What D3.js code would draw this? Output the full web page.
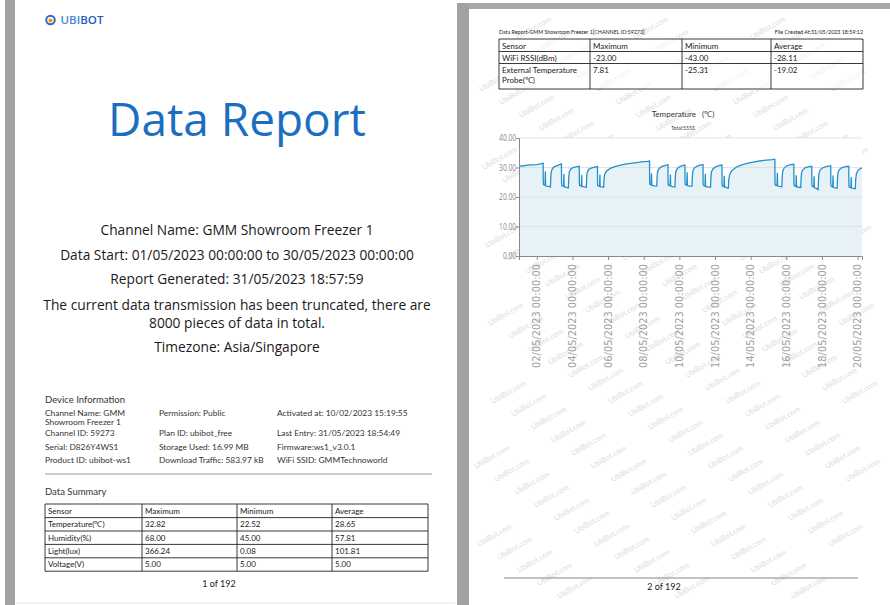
<!DOCTYPE html>
<html>
<head>
<meta charset="utf-8">
<script src="https://cdnjs.cloudflare.com/ajax/libs/d3/7.8.5/d3.min.js"></script>
<style>
  body { margin: 0; background: #fff; }
  svg { display: block; }
</style>
</head>
<body>
<div id="report"></div>
<script>
// ---------- page 1 ----------
var coverLines = [
  "Channel Name: GMM Showroom Freezer 1",
  "Data Start: 01/05/2023 00:00:00 to 30/05/2023 00:00:00",
  "Report Generated: 31/05/2023 18:57:59",
  "The current data transmission has been truncated, there are",
  "8000 pieces of data in total.",
  "Timezone: Asia/Singapore"
];
var deviceCol1 = [["Channel Name: GMM", "Showroom Freezer 1"], ["Channel ID: 59273"], ["Serial: D826Y4WS1"], ["Product ID: ubibot-ws1"]];
var deviceCol2 = ["Permission: Public", "Plan ID: ubibot_free", "Storage Used: 16.99 MB", "Download Traffic: 583.97 kB"];
var deviceCol3 = ["Activated at: 10/02/2023 15:19:55", "Last Entry: 31/05/2023 18:54:49", "Firmware:ws1_v3.0.1", "WiFi SSID: GMMTechnoworld"];

var tableHeader = ["Sensor", "Maximum", "Minimum", "Average"];
var summaryRows = [
  ["Temperature(\u2103)", "32.82", "22.52", "28.65"],
  ["Humidity(%)", "68.00", "45.00", "57.81"],
  ["Light(lux)", "366.24", "0.08", "101.81"],
  ["Voltage(V)", "5.00", "5.00", "5.00"]
];

// ---------- page 2 ----------
var page2Rows = [
  [["WiFi RSSI(dBm)"], "-23.00", "-43.00", "-28.11"],
  [["External Temperature", "Probe(\u2103)"], "7.81", "-25.31", "-19.02"]
];

// temperature readings (date, °C)
var tempSeries = [
  ["05-01 00:00", 30.5], ["05-01 06:00", 30.6], ["05-01 12:00", 30.8], ["05-01 18:00", 30.9], ["05-02 00:00", 31.0], ["05-02 06:00", 31.3], ["05-02 08:30", 31.4],
  ["05-02 08:40", 25.2], ["05-02 09:00", 24.2], ["05-02 11:00", 24.0], ["05-02 11:30", 28.6], ["05-02 11:50", 23.8], ["05-02 15:00", 23.6], ["05-02 18:20", 23.4], ["05-02 18:50", 26.8], ["05-02 19:30", 28.6], ["05-02 21:00", 29.6], ["05-03 00:00", 30.3], ["05-03 05:00", 30.8], ["05-03 09:10", 31.2],
  ["05-03 09:20", 24.8], ["05-03 09:40", 23.8], ["05-03 12:00", 23.6], ["05-03 12:30", 27.8], ["05-03 12:50", 23.5], ["05-03 16:00", 23.3], ["05-03 18:30", 23.1], ["05-03 19:00", 26.5], ["05-03 19:40", 28.4], ["05-03 21:30", 29.4], ["05-04 01:00", 30.0], ["05-04 06:00", 30.3], ["05-04 09:10", 30.4],
  ["05-04 09:20", 24.6], ["05-04 09:40", 23.9], ["05-04 12:00", 23.7], ["05-04 12:30", 27.5], ["05-04 12:50", 23.6], ["05-04 16:00", 23.4], ["05-04 18:40", 23.3], ["05-04 19:10", 26.6], ["05-04 19:50", 28.3], ["05-04 22:00", 29.4], ["05-05 02:00", 29.9], ["05-05 07:00", 30.2], ["05-05 09:40", 30.3],
  ["05-05 09:50", 24.5], ["05-05 10:10", 23.8], ["05-05 12:30", 23.6], ["05-05 13:00", 27.6], ["05-05 13:20", 23.5], ["05-05 16:00", 23.4], ["05-05 18:00", 23.3], ["05-05 18:30", 26.0], ["05-05 19:30", 27.8], ["05-05 22:00", 28.8], ["05-06 03:00", 29.7], ["05-06 09:00", 30.3], ["05-06 18:00", 30.9], ["05-07 03:00", 31.3], ["05-07 12:00", 31.6], ["05-07 21:00", 31.9], ["05-08 05:00", 32.1], ["05-08 07:50", 32.2],
  ["05-08 08:00", 25.0], ["05-08 08:20", 24.3], ["05-08 10:00", 24.1], ["05-08 10:30", 28.0], ["05-08 10:50", 24.0], ["05-08 14:00", 23.8], ["05-08 17:30", 23.7], ["05-08 18:00", 26.8], ["05-08 18:40", 28.6], ["05-08 20:30", 29.6], ["05-09 00:00", 30.3], ["05-09 05:00", 30.7], ["05-09 08:40", 30.9],
  ["05-09 08:50", 24.8], ["05-09 09:10", 24.0], ["05-09 11:30", 23.8], ["05-09 12:00", 27.6], ["05-09 12:20", 23.7], ["05-09 15:00", 23.5], ["05-09 18:00", 23.4], ["05-09 18:30", 26.7], ["05-09 19:10", 28.5], ["05-09 21:00", 29.6], ["05-10 00:30", 30.3], ["05-10 04:00", 30.6], ["05-10 07:30", 30.8],
  ["05-10 07:40", 24.9], ["05-10 08:00", 24.2], ["05-10 10:00", 24.0], ["05-10 10:30", 28.4], ["05-10 10:50", 23.9], ["05-10 14:00", 23.7], ["05-10 17:00", 23.6], ["05-10 17:30", 26.9], ["05-10 18:10", 28.7], ["05-10 20:00", 29.8], ["05-11 00:00", 30.5], ["05-11 04:00", 30.8], ["05-11 07:50", 31.0],
  ["05-11 08:00", 24.7], ["05-11 08:20", 24.0], ["05-11 10:30", 23.7], ["05-11 11:00", 27.9], ["05-11 11:20", 23.6], ["05-11 14:30", 23.4], ["05-11 18:00", 23.3], ["05-11 18:30", 26.6], ["05-11 19:10", 28.4], ["05-11 21:00", 29.5], ["05-12 01:00", 30.2], ["05-12 05:00", 30.6], ["05-12 09:20", 30.8],
  ["05-12 09:30", 24.5], ["05-12 09:50", 23.8], ["05-12 12:00", 23.5], ["05-12 12:30", 27.2], ["05-12 12:50", 23.4], ["05-12 15:30", 23.2], ["05-12 18:00", 23.0], ["05-12 18:30", 25.8], ["05-12 20:00", 27.8], ["05-12 23:00", 29.0], ["05-13 04:00", 30.0], ["05-13 10:00", 30.7], ["05-13 18:00", 31.3], ["05-14 03:00", 31.8], ["05-14 12:00", 32.2], ["05-14 21:00", 32.5], ["05-15 05:00", 32.7], ["05-15 08:40", 32.82],
  ["05-15 08:50", 25.0], ["05-15 09:10", 24.1], ["05-15 11:30", 23.9], ["05-15 12:00", 28.2], ["05-15 12:20", 23.8], ["05-15 15:00", 23.6], ["05-15 18:00", 23.5], ["05-15 18:30", 26.8], ["05-15 19:10", 28.7], ["05-15 21:00", 29.8], ["05-16 01:00", 30.6], ["05-16 06:00", 31.0], ["05-16 10:10", 31.1],
  ["05-16 10:20", 24.6], ["05-16 10:40", 23.9], ["05-16 13:00", 23.6], ["05-16 13:30", 27.4], ["05-16 13:50", 23.5], ["05-16 16:30", 23.3], ["05-16 19:30", 23.2], ["05-16 20:00", 26.5], ["05-16 20:40", 28.3], ["05-16 22:30", 29.3], ["05-17 02:00", 30.0], ["05-17 07:00", 30.3], ["05-17 10:20", 30.4],
  ["05-17 10:30", 24.3], ["05-17 10:50", 23.6], ["05-17 13:00", 23.4], ["05-17 13:30", 27.0], ["05-17 13:50", 23.2], ["05-17 16:30", 22.9], ["05-17 19:00", 22.52], ["05-17 19:30", 26.2], ["05-17 20:10", 28.2], ["05-17 22:00", 29.3], ["05-18 02:00", 30.0], ["05-18 07:00", 30.4], ["05-18 11:50", 30.6],
  ["05-18 12:00", 24.4], ["05-18 12:20", 23.7], ["05-18 14:30", 23.4], ["05-18 15:00", 27.3], ["05-18 15:20", 23.3], ["05-18 18:00", 23.1], ["05-18 20:30", 23.0], ["05-18 21:00", 26.4], ["05-18 21:40", 28.3], ["05-18 23:30", 29.3], ["05-19 03:00", 30.0], ["05-19 08:00", 30.3], ["05-19 12:10", 30.4],
  ["05-19 12:20", 24.2], ["05-19 12:40", 23.4], ["05-19 15:00", 23.2], ["05-19 15:30", 26.8], ["05-19 15:50", 23.0], ["05-19 18:30", 22.9], ["05-19 21:00", 22.8], ["05-19 21:30", 26.0], ["05-19 22:30", 28.0], ["05-20 00:30", 29.0], ["05-20 03:30", 29.6], ["05-20 06:00", 29.9]
];
var xTickDays = ["05-02", "05-04", "05-06", "05-08", "05-10", "05-12", "05-14", "05-16", "05-18", "05-20"];
var yTickValues = [0, 10, 20, 30, 40];

var svgWidth = 890;
var svgHeight = 605;

var svg = d3.select("#report").append("svg")
  .attr("width", svgWidth)
  .attr("height", svgHeight);

var smallFont = "Lato, 'Open Sans', sans-serif";
var coverFont = "'Open Sans', 'Noto Sans', sans-serif";

// scale a text's font-size so that it spans the given width
function fitFont(sel, target) {
  var w = sel.node().getComputedTextLength();
  var fs = +sel.attr("font-size");
  var size = fs * target / w;
  sel.attr("font-size", size);
  return size;
}

// page edges (gray scanner borders)
svg.append("rect").attr("x", 5).attr("y", 0).attr("width", 10).attr("height", svgHeight).attr("fill", "#a2a2a2");
svg.append("rect").attr("x", 457).attr("y", 3).attr("width", 12).attr("height", svgHeight).attr("fill", "#a2a2a2");
svg.append("rect").attr("x", 469).attr("y", 3).attr("width", svgWidth - 469).attr("height", 6).attr("fill", "#a8a8a8");
svg.append("line").attr("x1", 15).attr("x2", 455).attr("y1", 603).attr("y2", 603).attr("stroke", "#e6e6e6");

// ================= PAGE 1 =================
var p1 = svg.append("g");

// logo
var logo = p1.append("g").attr("transform", "translate(50.5,20)");
logo.append("circle").attr("r", 4.3).attr("fill", "none").attr("stroke", "#2c6cc2").attr("stroke-width", 2);
logo.append("circle").attr("r", 2.1).attr("cy", 0.5).attr("fill", "#f5921e");
var logoText = p1.append("text").attr("x", 60.5).attr("y", 24)
  .attr("font-family", coverFont).attr("font-size", 12).attr("font-weight", 600);
logoText.append("tspan").attr("fill", "#4c86d4").text("UBI");
logoText.append("tspan").attr("fill", "#1e5eb6").text("BOT");
fitFont(logoText, 43);

var title = p1.append("text")
  .attr("x", 237).attr("y", 136)
  .attr("text-anchor", "middle")
  .attr("font-family", coverFont)
  .attr("font-size", 46)
  .attr("fill", "#1b6fc0")
  .text("Data Report");
fitFont(title, 258);

var coverY = [235, 260, 284, 310, 328, 352];
var coverText = p1.selectAll("text.cover")
  .data(coverLines)
  .enter()
  .append("text")
  .attr("class", "cover")
  .attr("x", 237)
  .attr("y", (d, i) => coverY[i])
  .attr("text-anchor", "middle")
  .attr("font-family", coverFont)
  .attr("font-size", 14)
  .attr("fill", "#1a1a1a")
  .text(d => d);
var coverSize = fitFont(coverText.filter((d, i) => i === 1), 354);
coverText.attr("font-size", coverSize);

// device information
p1.append("text").attr("x", 45).attr("y", 403)
  .attr("font-family", smallFont).attr("font-size", 9.5).attr("fill", "#333").text("Device Information");

var rowY = [415.5, 436, 450, 463];
var info = p1.append("g").attr("font-family", smallFont).attr("font-size", 8.4).attr("fill", "#333");
deviceCol1.forEach(function(lines, i) {
  lines.forEach(function(t, k) {
    info.append("text").attr("x", 45).attr("y", rowY[i] + k * 9).text(t);
  });
});
deviceCol2.forEach(function(t, i) {
  info.append("text").attr("x", 159).attr("y", rowY[i]).text(t);
});
deviceCol3.forEach(function(t, i) {
  info.append("text").attr("x", 277).attr("y", rowY[i]).text(t);
});

p1.append("line").attr("x1", 45).attr("x2", 432).attr("y1", 474).attr("y2", 474)
  .attr("stroke", "#999").attr("stroke-width", 1);

p1.append("text").attr("x", 45).attr("y", 495)
  .attr("font-family", smallFont).attr("font-size", 9.5).attr("fill", "#333").text("Data Summary");

// generic table drawer
function drawTable(g, cols, top, rowHeights, rows, fontSize) {
  var x = d3.scaleOrdinal().domain(d3.range(4)).range(cols);
  var bottom = top + d3.sum(rowHeights);
  var y = top;
  var ys = [top];
  rowHeights.forEach(function(h) { y += h; ys.push(y); });
  g.selectAll("line.h").data(ys).enter().append("line")
    .attr("x1", cols[0]).attr("x2", cols[4]).attr("y1", d => d).attr("y2", d => d)
    .attr("stroke", "#222").attr("stroke-width", 0.9);
  g.selectAll("line.v").data(cols).enter().append("line")
    .attr("x1", d => d).attr("x2", d => d).attr("y1", top).attr("y2", bottom)
    .attr("stroke", "#222").attr("stroke-width", 0.9);
  rows.forEach(function(row, r) {
    row.forEach(function(cell, c) {
      var lines = Array.isArray(cell) ? cell : [cell];
      lines.forEach(function(t, k) {
        g.append("text")
          .attr("x", x(c) + 3)
          .attr("y", ys[r] + fontSize + 1.5 + k * (fontSize + 1.5))
          .attr("font-family", smallFont)
          .attr("font-size", fontSize)
          .attr("fill", "#222")
          .text(t);
      });
    });
  });
}

drawTable(p1.append("g"), [45, 142, 237, 332, 428], 504, [13.6, 13.4, 13.4, 13.4, 13.4],
  [tableHeader].concat(summaryRows), 8);

p1.append("text").attr("x", 219).attr("y", 587).attr("text-anchor", "middle")
  .attr("font-family", smallFont).attr("font-size", 9).attr("fill", "#222").text("1 of 192");

// ================= PAGE 2 =================
var p2 = svg.append("g");

// watermark tiles, kept inside the page
var wm = p2.append("g").attr("font-family", smallFont).attr("font-size", 7.5).attr("fill", "#dcdcdc");
for (var a = 1; a < 46; a++) {
  for (var b = -12; b < 8; b++) {
    var wx = 478 + a * 20 + b * 117;
    var wy = 14 + a * 13;
    if (wx < 474 || wx + 36 > 884 || wy - 21 < 14 || wy > 600) continue;
    wm.append("text").attr("transform", "translate(" + wx + "," + wy + ") rotate(-30)").text("UbiBot.com");
  }
}

var hdr = p2.append("text").attr("x", 499).attr("y", 34)
  .attr("font-family", smallFont).attr("font-size", 6).attr("fill", "#222")
  .text("Data Report-GMM Showroom Freezer 1[CHANNEL ID:59273]");
var hdrSize = fitFont(hdr, 146);
p2.append("text").attr("x", 863).attr("y", 34).attr("text-anchor", "end")
  .attr("font-family", smallFont).attr("font-size", hdrSize).attr("fill", "#222")
  .text("File Created At:31/05/2023 18:59:12");

var t2 = p2.append("g");
t2.append("rect").attr("x", 499).attr("y", 39).attr("width", 364).attr("height", 50).attr("fill", "#fff").attr("fill-opacity", 0.6);
drawTable(t2, [499, 590, 682, 771, 863], 39, [12.5, 12, 25.5],
  [tableHeader].concat(page2Rows), 8);

// chart
var parseTime = d3.timeParse("%Y-%m-%d %H:%M");
var points = tempSeries.map(d => ({ date: parseTime("2023-" + d[0]), value: d[1] }));

var plotLeft = 519, plotRight = 862, plotTop = 138, plotBottom = 256;

var xScale = d3.scaleTime()
  .domain([parseTime("2023-05-01 00:00"), parseTime("2023-05-20 06:00")])
  .range([plotLeft, plotRight]);
var yScale = d3.scaleLinear()
  .domain([0, 40])
  .range([plotBottom, plotTop]);

var chartGroup = p2.append("g");

chartGroup.append("rect")
  .attr("x", plotLeft).attr("y", plotTop)
  .attr("width", plotRight - plotLeft).attr("height", plotBottom - plotTop)
  .attr("fill", "#fff");

chartGroup.append("text").attr("x", 683).attr("y", 117).attr("text-anchor", "middle")
  .attr("font-family", smallFont).attr("font-size", 8).attr("fill", "#333")
  .text("Temperature\u00a0\u00a0 (\u2103)");
chartGroup.append("text").attr("x", 683).attr("y", 130).attr("text-anchor", "middle")
  .attr("font-family", smallFont).attr("font-size", 5).attr("fill", "#333")
  .text("Total:5553");

var area = d3.area()
  .x(d => xScale(d.date))
  .y0(yScale(0))
  .y1(d => yScale(d.value));

chartGroup.append("path")
  .datum(points)
  .attr("d", area)
  .attr("fill", "#e6f2f5");

chartGroup.append("g")
  .selectAll("line")
  .data(yTickValues.filter(v => v > 0))
  .enter()
  .append("line")
  .attr("x1", plotLeft).attr("x2", plotRight)
  .attr("y1", d => yScale(d)).attr("y2", d => yScale(d))
  .attr("stroke", "#dcdcdc").attr("stroke-width", 0.8);

var line = d3.line()
  .x(d => xScale(d.date))
  .y(d => yScale(d.value));

chartGroup.append("path")
  .datum(points)
  .attr("d", line)
  .attr("fill", "none")
  .attr("stroke", "#2290cf")
  .attr("stroke-width", 1.3);

// axes
var leftAxis = d3.axisLeft(yScale).tickValues(yTickValues).tickFormat(d3.format(".2f")).tickSize(3).tickPadding(1);
var yAxisG = chartGroup.append("g")
  .attr("transform", `translate(${plotLeft}, 0)`)
  .call(leftAxis);
yAxisG.select(".domain").attr("stroke", "#888");
yAxisG.selectAll(".tick line").attr("stroke", "#888");
yAxisG.selectAll("text")
  .attr("font-family", "'Open Sans', sans-serif")
  .attr("font-size", 9)
  .attr("fill", "#888")
  .attr("transform", "scale(0.74,1)");

var tickDates = xTickDays.map(d => parseTime("2023-" + d + " 00:00"));
var bottomAxis = d3.axisBottom(xScale)
  .tickValues(tickDates)
  .tickFormat(d3.timeFormat("%d/%m/%Y %H:%M:%S"))
  .tickSize(4);
var xAxisG = chartGroup.append("g")
  .attr("transform", `translate(0, ${plotBottom})`)
  .call(bottomAxis);
xAxisG.select(".domain").attr("stroke", "#888");
xAxisG.selectAll(".tick line").attr("stroke", "#888");
var xLabels = xAxisG.selectAll("text")
  .attr("font-family", "'DejaVu Sans', sans-serif")
  .attr("font-size", 8.3)
  .attr("fill", "#a0a0a0")
  .attr("text-anchor", "end")
  .attr("dy", "0.32em")
  .attr("transform", "translate(0,4) rotate(-90)")
  .attr("x", -4)
  .attr("y", 0);
var xLabelSize = fitFont(d3.select(xLabels.node()), 104);
xLabels.attr("font-size", xLabelSize);

// footer
p2.append("line").attr("x1", 504).attr("x2", 858).attr("y1", 578).attr("y2", 578)
  .attr("stroke", "#888").attr("stroke-width", 1);
p2.append("text").attr("x", 664).attr("y", 590).attr("text-anchor", "middle")
  .attr("font-family", smallFont).attr("font-size", 9).attr("fill", "#222").text("2 of 192");
</script>
</body>
</html>
